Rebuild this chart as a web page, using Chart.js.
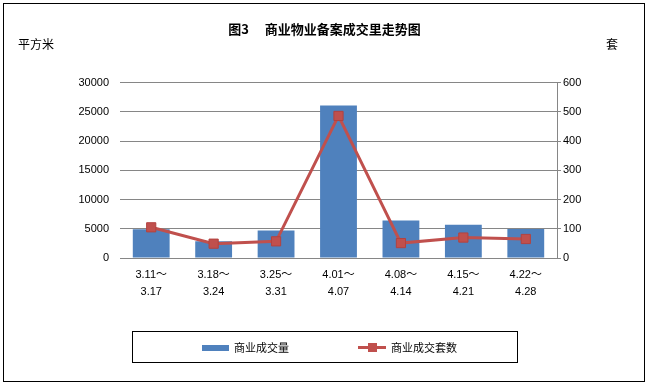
<!DOCTYPE html>
<html>
<head>
<meta charset="utf-8">
<script src="https://cdn.jsdelivr.net/npm/chart.js@4/dist/chart.umd.min.js"></script>
<style>
  html, body { margin: 0; padding: 0; background: #fff; }
  #wrap { width: 649px; height: 386px; position: relative; }
</style>
</head>
<body>
<div id="wrap"><canvas id="chart" width="649" height="386"></canvas></div>
<script>
const weeks = [
  ["3.11～", "3.17"],
  ["3.18～", "3.24"],
  ["3.25～", "3.31"],
  ["4.01～", "4.07"],
  ["4.08～", "4.14"],
  ["4.15～", "4.21"],
  ["4.22～", "4.28"],
];
const areaValues = [4900, 2850, 4700, 26100, 6400, 5700, 4950];
const unitValues = [105, 49, 57, 486, 51, 70, 65];
const areaTicks = [0, 5000, 10000, 15000, 20000, 25000, 30000];
const unitTicks = [0, 100, 200, 300, 400, 500, 600];

const BLUE = "#4F81BD";
const RED = "#C0504D";
const GRID = "#868686";
const FONT = "'Liberation Sans', 'Noto Sans CJK SC', sans-serif";
const CJK = "'Noto Sans CJK SC', sans-serif";

// frame, unit captions and the boxed legend
const decor = {
  id: "decor",
  beforeDraw(chart) {
    const ctx = chart.ctx;
    ctx.save();
    ctx.fillStyle = "#fff";
    ctx.fillRect(0, 0, chart.width, chart.height);
    ctx.strokeStyle = "#000";
    ctx.lineWidth = 1;
    ctx.strokeRect(3.5, 3.5, 641, 378);
    ctx.restore();
  },
  afterDraw(chart) {
    const ctx = chart.ctx;
    const bar = chart.data.datasets.find((d) => d.type === "bar");
    const line = chart.data.datasets.find((d) => d.type === "line");
    ctx.save();
    ctx.fillStyle = "#000";
    ctx.font = "12px " + CJK;
    ctx.textBaseline = "middle";
    ctx.textAlign = "left";
    ctx.fillText("平方米", 18, 44);
    ctx.fillText("套", 606, 44);

    ctx.strokeStyle = "#000";
    ctx.lineWidth = 1;
    ctx.strokeRect(132.5, 331.5, 385, 31);

    ctx.font = "11px " + CJK;
    ctx.fillStyle = bar.backgroundColor;
    ctx.fillRect(202, 345, 27, 6);
    ctx.fillStyle = "#000";
    ctx.fillText(bar.label, 234, 348);

    ctx.strokeStyle = line.borderColor;
    ctx.lineWidth = 3;
    ctx.beginPath();
    ctx.moveTo(358, 347.5);
    ctx.lineTo(386, 347.5);
    ctx.stroke();
    ctx.fillStyle = line.pointBackgroundColor;
    ctx.fillRect(368, 343, 9, 9);
    ctx.fillStyle = "#000";
    ctx.fillText(line.label, 391, 348);
    ctx.restore();
  },
};

new Chart(document.getElementById("chart"), {
  data: {
    labels: weeks,
    datasets: [
      {
        type: "line",
        label: "商业成交套数",
        data: unitValues,
        yAxisID: "y1",
        borderColor: RED,
        borderWidth: 3,
        pointStyle: "rect",
        pointRadius: 6.5,
        pointBackgroundColor: RED,
        pointBorderColor: "#B3423F",
        pointBorderWidth: 1,
        tension: 0,
        order: 0,
      },
      {
        type: "bar",
        label: "商业成交量",
        data: areaValues,
        yAxisID: "y",
        backgroundColor: BLUE,
        categoryPercentage: 1,
        barPercentage: 0.59,
        order: 1,
      },
    ],
  },
  plugins: [decor],
  options: {
    responsive: false,
    animation: false,
    events: [],
    layout: { padding: { left: 0, right: 0, top: 0, bottom: 68 } },
    plugins: {
      legend: { display: false },
      tooltip: { enabled: false },
      title: {
        display: true,
        text: "图3　 商业物业备案成交里走势图",
        color: "#000",
        font: { family: CJK, size: 13, weight: "bold", lineHeight: 1.2 },
        padding: { top: 21, bottom: 46 },
      },
    },
    scales: {
      x: {
        grid: { display: false, drawTicks: false },
        border: { display: true, color: GRID },
        ticks: {
          color: "#000",
          font: { family: FONT, size: 11, lineHeight: 1.55 },
          padding: 8,
          maxRotation: 0,
          autoSkip: false,
        },
        afterFit: (s) => { s.height = 60; },
      },
      y: {
        position: "left",
        min: 0,
        max: 30000,
        afterBuildTicks: (s) => { s.ticks = areaTicks.map((v) => ({ value: v })); },
        grid: { color: GRID, drawTicks: false },
        border: { display: false },
        ticks: {
          color: "#000",
          font: { family: FONT, size: 11 },
          padding: 11,
          callback: (v) => String(v),
        },
        afterFit: (s) => { s.width = 120; },
      },
      y1: {
        position: "right",
        min: 0,
        max: 600,
        afterBuildTicks: (s) => { s.ticks = unitTicks.map((v) => ({ value: v })); },
        grid: { drawOnChartArea: false, color: GRID, tickLength: 4 },
        border: { display: true, color: GRID },
        ticks: {
          color: "#000",
          font: { family: FONT, size: 11 },
          padding: 2,
          callback: (v) => String(v),
        },
        afterFit: (s) => { s.width = 92; },
      },
    },
  },
});
</script>
</body>
</html>
